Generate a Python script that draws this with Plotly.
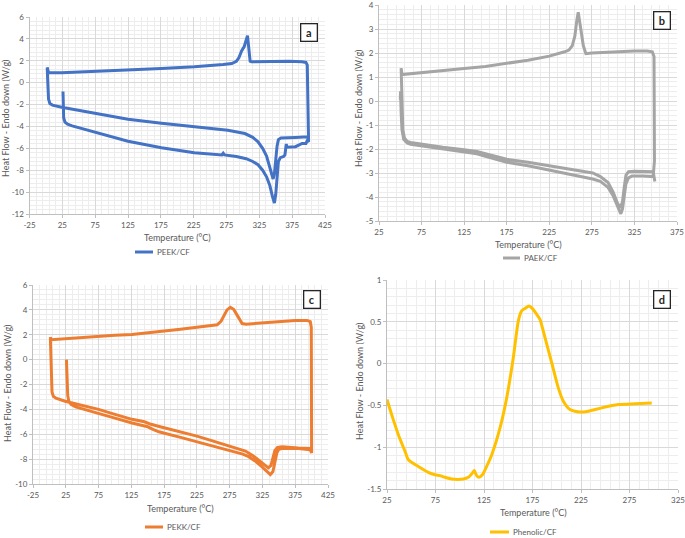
import plotly.graph_objects as go

# ---- data (temperature in C, heat flow in W/g) ----
# a) PEEK/CF: 1st heating, cooling, 2nd heating
peek_t = [26, 26.5, 27, 29, 33, 40, 74, 125, 176, 226, 268, 270, 272, 290, 305, 315, 323, 330, 336, 341,
          345, 348, 350, 352, 354, 357, 362, 364, 365, 366, 367, 372, 380, 385, 390, 396, 398, 400,
          399, 398.5, 398, 396, 390, 370, 340, 313, 311, 309, 307, 305, 302, 298, 294, 290, 283, 270,
          226, 176, 125, 74, 24, 4, 2,
          2.5, 3, 4, 6, 10, 24, 74, 125, 176, 226, 277, 303, 315, 323, 330, 336, 341, 344, 346, 348,
          350, 352, 354, 358, 380, 398, 400]
peek_hf = [-0.8, -2.0, -3.2, -3.6, -3.8, -3.95, -4.5, -5.35, -5.95, -6.4, -6.6, -6.45, -6.6, -6.75, -6.95,
           -7.2, -7.5, -8.0, -8.6, -9.4, -10.4, -11.0, -10.2, -8.5, -7.2, -6.85, -6.75, -6.6, -5.7, -5.6,
           -5.9, -5.9, -5.85, -5.7, -5.55, -5.55, -5.3, -5.4,
           -3.0, 0.0, 1.6, 1.85, 1.9, 1.95, 1.9, 1.9, 1.95, 3.2, 4.3, 3.9, 3.3, 2.9, 2.3, 1.95, 1.75, 1.65,
           1.45, 1.3, 1.15, 1.0, 0.9, 0.9, 1.4,
           0.5, -0.5, -1.5, -1.9, -2.05, -2.25, -2.8, -3.35, -3.7, -4.0, -4.35, -4.65, -5.0, -5.4, -6.0,
           -6.7, -7.7, -8.5, -8.8, -8.3, -7.0, -5.8, -5.2, -5.05, -5.0, -4.95, -5.2]

# b) PAEK/CF
paek_t = [50, 50.3, 51, 52, 54, 58, 62, 75, 100, 125, 140, 150, 165, 175, 200, 225, 250, 265, 276, 285,
          294, 300, 305, 309, 311, 313, 315, 318, 322, 335, 347,
          348.5, 348.5, 348, 346, 340, 325, 300, 275, 268, 265, 262, 260, 259, 257.5, 255, 252, 248, 243,
          225, 200, 175, 150, 125, 100, 75, 55, 52, 51,
          51.5, 52, 53, 55, 58, 62, 75, 100, 125, 140, 150, 165, 175, 200, 225, 250, 265, 276, 285, 294,
          300, 305, 308.5, 311, 313, 315, 318, 325, 347, 349]
paek_hf = [0.05, 0.4, -0.5, -1.2, -1.6, -1.75, -1.8, -1.87, -2.0, -2.13, -2.2, -2.3, -2.45, -2.55, -2.7,
           -2.88, -3.05, -3.17, -3.25, -3.35, -3.6, -3.95, -4.4, -4.7, -4.5, -4.0, -3.45, -3.2, -3.13,
           -3.13, -3.15,
           -2.5, 0.0, 1.85, 2.05, 2.08, 2.08, 2.05, 2.0, 1.97, 2.3, 3.0, 3.6, 3.7, 3.4, 2.7, 2.3, 2.12,
           2.05, 1.87, 1.7, 1.57, 1.44, 1.35, 1.27, 1.18, 1.12, 1.1, 1.37,
           0.5, -0.5, -1.2, -1.55, -1.68, -1.73, -1.8, -1.93, -2.03, -2.1, -2.2, -2.35, -2.43, -2.55,
           -2.7, -2.85, -2.93, -3.0, -3.15, -3.4, -3.8, -4.25, -4.45, -4.2, -3.6, -3.1, -2.95, -2.93,
           -2.95, -3.35]

# c) PEKK/CF
pekk_t = [26, 26.5, 27, 28, 29.5, 33, 40, 75, 100, 126, 150, 158, 167, 200, 225, 250, 275, 295, 304, 315,
          324, 332, 337, 341, 344, 347, 350, 355, 380, 398, 400,
          400, 400, 399.5, 398, 393, 375, 350, 329, 300, 294, 289, 285, 281, 276, 271, 266, 262, 256,
          240, 225, 200, 177, 160, 151, 126, 100, 75, 50, 24, 3, 1.5,
          2, 2.5, 3, 4, 6, 10, 24, 50, 75, 100, 126, 145, 155, 169, 200, 225, 250, 275, 299, 310, 324,
          334, 338, 341, 344, 348, 355, 380, 398, 400]
pekk_hf = [0.0, -1.0, -2.0, -2.9, -3.3, -3.6, -3.8, -4.3, -4.7, -5.1, -5.4, -5.6, -5.8, -6.25, -6.6,
           -6.95, -7.3, -7.6, -7.8, -8.2, -8.6, -9.05, -9.25, -9.0, -8.3, -7.5, -7.2, -7.15, -7.15, -7.25,
           -7.5,
           -5.0, 0.0, 2.6, 3.05, 3.15, 3.15, 3.05, 2.95, 2.85, 2.9, 3.3, 3.7, 4.05, 4.2, 4.0, 3.5, 3.1,
           2.8, 2.68, 2.6, 2.45, 2.33, 2.25, 2.15, 2.02, 1.95, 1.87, 1.8, 1.72, 1.6, 1.8,
           0.5, -1.0, -2.0, -2.6, -2.95, -3.1, -3.35, -3.7, -4.0, -4.4, -4.8, -5.0, -5.2, -5.4, -5.8,
           -6.15, -6.55, -6.95, -7.35, -7.7, -8.3, -8.7, -8.5, -7.9, -7.3, -7.05, -7.0, -7.1, -7.15, -7.5]

# d) Phenolic/CF
phen_t = [25, 29.8, 36.7, 43.6, 47, 57.3, 67.6, 74.5, 79.6, 84.8, 91.7, 103.7, 108.8, 113, 115, 117.4,
          119.8, 123.3, 127.7, 133, 141.5, 148.4, 155.2, 160.4, 163.8, 167.3, 171.4, 174.8, 179.3,
          182.7, 187.9, 194.8, 201.6, 206.8, 213.7, 224, 232.6, 246.3, 263.5, 280.7, 297.9]
phen_hf = [-0.43, -0.61, -0.85, -1.05, -1.15, -1.23, -1.3, -1.33, -1.34, -1.36, -1.38, -1.38, -1.36,
           -1.31, -1.28, -1.34, -1.36, -1.33, -1.23, -1.09, -0.77, -0.41, 0.07, 0.51, 0.63, 0.66, 0.69,
           0.66, 0.59, 0.53, 0.31, 0.01, -0.29, -0.45, -0.55, -0.58, -0.57, -0.53, -0.49, -0.48, -0.47]

xt_a = [-25, 25, 75, 125, 175, 225, 275, 325, 375, 425]
yt_a = [6, 4, 2, 0, -2, -4, -6, -8, -10, -12]
xt_b = [25, 75, 125, 175, 225, 275, 325, 375]
yt_b = [4, 3, 2, 1, 0, -1, -2, -3, -4, -5]
xt_c = xt_a
yt_c = [6, 4, 2, 0, -2, -4, -6, -8, -10]
xt_d = [25, 75, 125, 175, 225, 275, 325]
yt_d = [1, 0.5, 0, -0.5, -1, -1.5]

W, H = 685, 538
FONT = "Lato, Open Sans, sans-serif"
GREY = "#595959"


def px(x):
    return x / W


def py(y):
    return 1 - y / H


def lab(v):
    return "%g" % v


fig = go.Figure()

panels = [
    # name, t, hf, color, x-dom px, y-dom px, xt, yt, minor y, legend line (x0, x1, y),
    # x-title pos, y-title pos, letter pos
    ("PEEK/CF", peek_t, peek_hf, "#4472C4", (29.5, 325), (17, 214), xt_a, yt_a, 0.4,
     (135, 153, 252), (177, 237), (5, 118), (308.5, 32.5), "a"),
    ("PAEK/CF", paek_t, paek_hf, "#A5A5A5", (379, 677), (5, 221), xt_b, yt_b, 0.2,
     (503, 520, 258), (528, 244), (359, 108), (662, 21), "b"),
    ("PEKK/CF", pekk_t, pekk_hf, "#ED7D31", (33, 328), (285, 484), xt_c, yt_c, 0.4,
     (145, 163, 527), (180, 508), (7, 383), (312, 299), "c"),
    ("Phenolic/CF", phen_t, phen_hf, "#FFC000", (387, 678), (280, 489), xt_d, yt_d, 0.1,
     (490, 509, 532), (533, 512), (359, 381), (661.5, 299), "d"),
]

annotations = []
shapes = []
layout_axes = {}
for i, (name, t, hf, col, xd, yd, xt, yt, ymin, lg, xtp, ytp, lp, letter) in enumerate(panels):
    n = "" if i == 0 else str(i + 1)
    fig.add_trace(go.Scatter(
        x=t, y=hf, mode="lines", name=name, showlegend=False,
        line=dict(color=col, width=3, shape="spline" if letter == "d" else "linear", smoothing=0.6),
        xaxis="x" + n, yaxis="y" + n,
    ))
    common = dict(
        showline=True, linecolor="#BFBFBF", linewidth=1,
        showgrid=True, gridcolor="#D9D9D9", gridwidth=1,
        zeroline=False, ticks="outside", ticklen=3, tickcolor="#BFBFBF",
        ticklabeloverflow="allow", automargin=False,
        tickfont=dict(family=FONT, size=8, color=GREY),
    )
    layout_axes["xaxis" + n] = dict(
        common, domain=[px(xd[0]), px(xd[1])], anchor="y" + n,
        range=[xt[0], xt[-1]], tickvals=xt, ticktext=[lab(v) for v in xt],
        minor=dict(dtick=10, tick0=xt[0], showgrid=True, gridcolor="#EDEDED", ticks=""),
    )
    layout_axes["yaxis" + n] = dict(
        common, domain=[py(yd[1]), py(yd[0])], anchor="x" + n,
        range=[yt[-1], yt[0]], tickvals=yt, ticktext=[lab(v) for v in yt],
        minor=dict(dtick=ymin, tick0=yt[-1], showgrid=True, gridcolor="#EDEDED", ticks=""),
    )
    # legend drawn by hand: short line sample and its label
    shapes.append(dict(
        type="line", xref="paper", yref="paper",
        x0=px(lg[0]), x1=px(lg[1]), y0=py(lg[2]), y1=py(lg[2]),
        line=dict(color=col, width=3),
    ))
    annotations.append(dict(
        text=name, x=px(lg[1] + 2), y=py(lg[2]), xref="paper", yref="paper",
        xanchor="left", yanchor="middle",
        showarrow=False, font=dict(family=FONT, size=8, color=GREY),
    ))
    annotations.append(dict(
        text="Temperature (°C)", x=px(xtp[0]), y=py(xtp[1]), xref="paper", yref="paper",
        xanchor="center", yanchor="middle",
        showarrow=False, font=dict(family=FONT, size=9, color=GREY),
    ))
    annotations.append(dict(
        text="Heat Flow - Endo down (W/g)", x=px(ytp[0]), y=py(ytp[1]), xref="paper", yref="paper",
        xanchor="center", yanchor="middle",
        showarrow=False, textangle=-90, font=dict(family=FONT, size=9, color=GREY),
    ))
    annotations.append(dict(
        text="<b>%s</b>" % letter, x=px(lp[0]), y=py(lp[1]), xref="paper", yref="paper",
        xanchor="center", yanchor="middle",
        showarrow=False, width=13, height=14, borderpad=1, bordercolor="#262626", borderwidth=1.3,
        bgcolor="white", font=dict(family=FONT, size=11, color="#262626"),
    ))

fig.update_layout(
    width=W, height=H, margin=dict(l=0, r=0, t=0, b=0),
    paper_bgcolor="white", plot_bgcolor="white",
    showlegend=False, annotations=annotations, shapes=shapes, **layout_axes,
)

# drop the browser's default body margin so the figure sits at the window corner
fig.write_html("out.html", config={"displayModeBar": False},
               post_script="document.body.style.margin='0';")
